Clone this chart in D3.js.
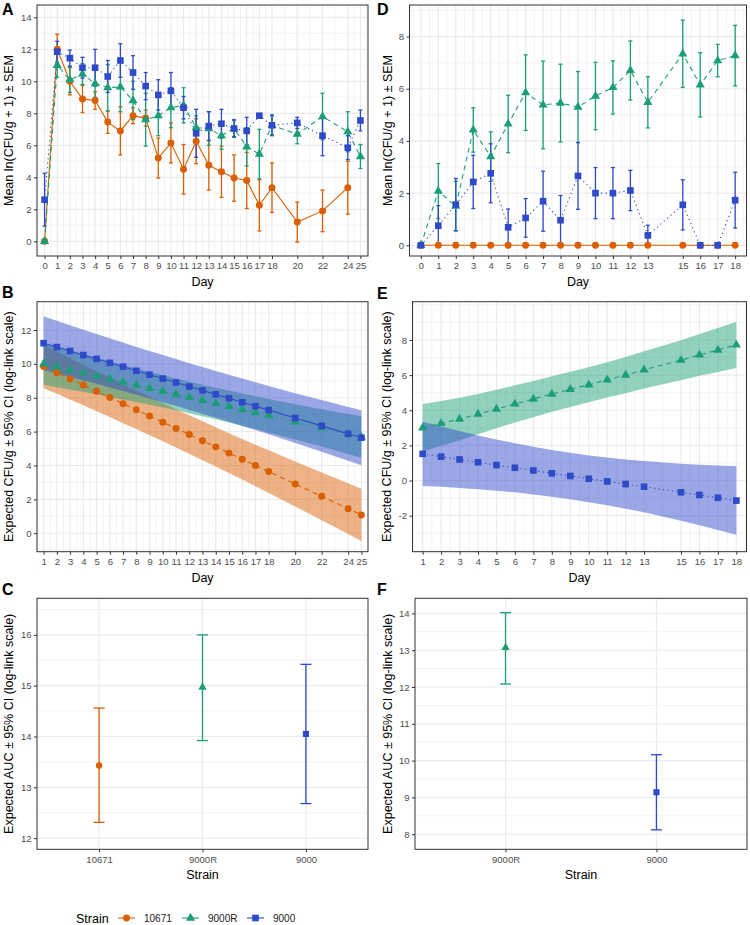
<!DOCTYPE html>
<html>
<head>
<meta charset="utf-8">
<script src="https://cdn.jsdelivr.net/npm/d3@7"></script>
<style>
  body { margin: 0; background: #fff; }
  svg { display: block; font-family: "Liberation Sans", Arial, sans-serif; }
</style>
</head>
<body>
<svg id="fig" width="750" height="925"></svg>
<script>
const strains = ["10671", "9000R", "9000"]
const colour = d3.scaleOrdinal().domain(strains).range(["#D95F02", "#1B9E77", "#2E4AC9"])
const shape = d3.scaleOrdinal().domain(strains).range([d3.symbolCircle, d3.symbolTriangle, d3.symbolSquare])
const symSize = { "10671": 38, "9000R": 36, "9000": 44 }

// ---- panel A: mean ln(CFU/g + 1) +- SEM, first experiment
const daysA = [0, 1, 2, 3, 4, 5, 6, 7, 8, 9, 10, 11, 12, 13, 14, 15, 16, 17, 18, 20, 22, 24, 25]
const meanA_10671 = [0, 12.0, 10.0, 8.9, 8.8, 7.45, 6.9, 7.85, 7.7, 5.2, 6.15, 4.5, 6.25, 4.75, 4.35, 3.95, 3.8, 2.25, 3.35, 1.2, 1.9, 3.35, null]
const semA_10671 = [0, 0.95, 0.85, 0.85, 0.55, 0.7, 1.5, 0.5, 0.5, 1.25, 1.25, 1.55, 1.4, 1.55, 1.6, 1.45, 1.75, 1.6, 1.55, 1.25, 1.3, 1.65, null]
const meanA_9000R = [0, 11.0, 10.1, 10.45, 9.85, 9.6, 9.65, 8.8, 7.6, 7.85, 8.35, 8.5, 7.1, 7.05, 6.6, 7.05, 5.9, 5.45, 7.25, 6.7, 7.8, 6.85, 5.3]
const semA_9000R = [0, 0.75, 0.8, 0.65, 0.85, 1.45, 1.55, 1.2, 1.65, 1.25, 1.25, 1.1, 0.75, 1.05, 0.85, 0.5, 1.2, 1.55, 0.6, 0.6, 1.45, 1.25, 0.75]
const meanA_9000 = [2.6, 11.85, 11.45, 10.85, 10.85, 10.3, 11.3, 10.55, 9.7, 9.15, 9.4, 8.35, 6.75, 7.2, 7.35, 7.05, 6.9, 7.85, 7.25, 7.4, 6.6, 5.85, 7.55]
const semA_9000 = [1.65, 0.65, 0.5, 0.65, 1.15, 1.0, 1.05, 1.05, 0.85, 0.95, 1.15, 0.7, 1.5, 0.9, 0.9, 0.55, 0.85, 0, 0.65, 0.35, 1.25, 0.75, 0.65]

// ---- panel D: mean ln(CFU/g + 1) +- SEM, second experiment
const daysD = [0, 1, 2, 3, 4, 5, 6, 7, 8, 9, 10, 11, 12, 13, 15, 16, 17, 18]
const meanD_10671 = [0, 0, 0, 0, 0, 0, 0, 0, 0, 0, 0, 0, 0, 0, 0, 0, 0, 0]
const semD_10671 = [0, 0, 0, 0, 0, 0, 0, 0, 0, 0, 0, 0, 0, 0, 0, 0, 0, 0]
const meanD_9000R = [0, 2.08, 1.5, 4.42, 3.4, 4.65, 5.85, 5.38, 5.45, 5.3, 5.72, 6.05, 6.7, 5.48, 7.34, 6.15, 7.08, 7.27]
const semD_9000R = [0, 1.05, 0.95, 0.85, 0.95, 1.1, 1.45, 1.68, 1.49, 1.36, 1.29, 1.02, 1.13, 0.98, 1.29, 1.23, 0.62, 1.16]
const meanD_9000 = [0, 0.75, 1.56, 2.43, 2.76, 0.69, 1.05, 1.69, 0.96, 2.66, 2.0, 2.0, 2.1, 0.38, 1.55, 0, 0, 1.73]
const semD_9000 = [0, 0.77, 1.0, 1.02, 1.13, 0.7, 0.74, 1.15, 0.95, 1.28, 0.98, 0.98, 0.77, 0.39, 0.96, 0, 0, 1.07]

// ---- panel B: model expected CFU/g with 95% CI (log-link scale)
const daysB = [1, 2, 3, 4, 5, 6, 7, 8, 9, 10, 11, 12, 13, 14, 15, 16, 17, 18, 20, 22, 24, 25]
const fitB_10671 = [9.84, 9.48, 9.11, 8.75, 8.38, 8.02, 7.65, 7.29, 6.92, 6.56, 6.19, 5.83, 5.46, 5.1, 4.73, 4.37, 4.0, 3.64, 2.91, 2.18, 1.45, 1.08]
const loB_10671 = [8.56, 8.23, 7.89, 7.55, 7.20, 6.86, 6.50, 6.15, 5.79, 5.43, 5.06, 4.69, 4.31, 3.94, 3.55, 3.17, 2.77, 2.38, 1.58, 0.77, -0.05, -0.47]
const hiB_10671 = [11.12, 10.73, 10.33, 9.95, 9.56, 9.18, 8.80, 8.43, 8.05, 7.69, 7.32, 6.97, 6.61, 6.26, 5.91, 5.57, 5.23, 4.90, 4.24, 3.59, 2.95, 2.63]
const fitB_9000R = [10.0, 9.82, 9.64, 9.46, 9.28, 9.1, 8.92, 8.74, 8.56, 8.38, 8.2, 8.02, 7.84, 7.66, 7.48, 7.3, 7.12, 6.94, 6.58, 6.22, 5.86, 5.68]
const loB_9000R = [8.76, 8.62, 8.48, 8.34, 8.20, 8.05, 7.90, 7.75, 7.59, 7.43, 7.26, 7.09, 6.91, 6.73, 6.54, 6.35, 6.15, 5.95, 5.54, 5.12, 4.68, 4.46]
const hiB_9000R = [11.24, 11.02, 10.80, 10.58, 10.36, 10.15, 9.94, 9.73, 9.53, 9.33, 9.14, 8.95, 8.77, 8.59, 8.42, 8.25, 8.09, 7.93, 7.62, 7.32, 7.04, 6.90]
const fitB_9000 = [11.22, 10.99, 10.76, 10.52, 10.29, 10.06, 9.83, 9.59, 9.36, 9.13, 8.9, 8.66, 8.43, 8.2, 7.97, 7.73, 7.5, 7.27, 6.8, 6.34, 5.87, 5.64]
const loB_9000 = [9.64, 9.44, 9.24, 9.02, 8.82, 8.61, 8.40, 8.18, 7.96, 7.74, 7.52, 7.28, 7.05, 6.82, 6.58, 6.33, 6.09, 5.84, 5.33, 4.81, 4.28, 4.02]
const hiB_9000 = [12.80, 12.54, 12.28, 12.02, 11.76, 11.51, 11.26, 11.00, 10.76, 10.52, 10.28, 10.04, 9.81, 9.58, 9.36, 9.13, 8.91, 8.70, 8.27, 7.87, 7.46, 7.26]

// ---- panel E: model expected CFU/g with 95% CI, second experiment
const daysE = [1, 2, 3, 4, 5, 6, 7, 8, 9, 10, 11, 12, 13, 15, 16, 17, 18]
const fitE_9000R = [3.0, 3.25, 3.5, 3.78, 4.07, 4.36, 4.64, 4.92, 5.19, 5.45, 5.73, 6.0, 6.3, 6.85, 7.15, 7.43, 7.72]
const loE_9000R = [1.65, 1.97, 2.29, 2.63, 2.97, 3.30, 3.61, 3.91, 4.19, 4.45, 4.72, 4.97, 5.24, 5.71, 5.96, 6.18, 6.40]
const hiE_9000R = [4.35, 4.53, 4.71, 4.93, 5.17, 5.42, 5.67, 5.93, 6.19, 6.45, 6.74, 7.03, 7.36, 7.99, 8.34, 8.68, 9.04]
const fitE_9000 = [1.52, 1.36, 1.2, 1.04, 0.88, 0.73, 0.57, 0.41, 0.26, 0.1, -0.05, -0.2, -0.35, -0.67, -0.82, -0.98, -1.14]
const loE_9000 = [-0.31, -0.36, -0.42, -0.49, -0.58, -0.67, -0.79, -0.92, -1.06, -1.23, -1.41, -1.60, -1.81, -2.29, -2.54, -2.82, -3.09]
const hiE_9000 = [3.35, 3.08, 2.82, 2.57, 2.34, 2.13, 1.93, 1.74, 1.58, 1.43, 1.31, 1.20, 1.11, 0.95, 0.90, 0.86, 0.81]

// ---- panels C and F: expected AUC with 95% CI
const strainsC = ["10671", "9000R", "9000"]
const aucC = [13.43, 14.97, 14.05]
const aucC_lo = [12.31, 13.92, 12.68]
const aucC_hi = [14.56, 16.0, 15.42]
const strainsF = ["9000R", "9000"]
const aucF = [13.07, 9.14]
const aucF_lo = [12.08, 8.12]
const aucF_hi = [14.02, 10.16]

const yTitleMean = "Mean ln(CFU/g + 1) \u00b1 SEM"
const yTitleFit = "Expected CFU/g \u00b1 95% CI (log-link scale)"
const yTitleAuc = "Expected AUC \u00b1 95% CI (log-link scale)"

const svg = d3.select("#fig")
const tickCol = "#4D4D4D"

const series = (days, means, errs) => days.map((d, i) => ({ day: d, v: means[i], e: errs ? errs[i] : 0 })).filter(p => p.v != null)

function minorY(dom, major) {
  const s = (major[1] - major[0]) / 2
  return d3.range(Math.ceil(dom[0] / s - 1e-9), Math.floor(dom[1] / s + 1e-9) + 1)
    .map(i => +(i * s).toFixed(6)).filter(v => !major.includes(v))
}
function minorX(dom, br) {
  const ext = [br[0] - 1, ...br, br[br.length - 1] + 1]
  const m = []
  for (let i = 0; i < ext.length - 1; i++) m.push((ext[i] + ext[i + 1]) / 2)
  return m.concat([ext[0], ext[ext.length - 1]]).filter(v => v >= dom[0] && v <= dom[1] && !br.includes(v))
}

function frame(b, x, y, xMajor, xMinor, yMajor, yMinor) {
  const g = svg.append("g")
  g.append("rect").attr("x", b.x0).attr("y", b.y0).attr("width", b.x1 - b.x0).attr("height", b.y1 - b.y0).attr("fill", "#fff")
  const hline = (vals, w) => g.append("g").selectAll("line").data(vals).join("line")
    .attr("x1", b.x0).attr("x2", b.x1).attr("y1", d => y(d)).attr("y2", d => y(d))
    .attr("stroke", "#EBEBEB").attr("stroke-width", w)
  const vline = (vals, w) => g.append("g").selectAll("line").data(vals).join("line")
    .attr("y1", b.y0).attr("y2", b.y1).attr("x1", d => x(d)).attr("x2", d => x(d))
    .attr("stroke", "#EBEBEB").attr("stroke-width", w)
  hline(yMinor, 0.6)
  vline(xMinor, 0.6)
  hline(yMajor, 1.2)
  vline(xMajor, 1.2)
  return g
}

function decorate(b, x, y, xTicks, yTicks, xTitle, yTitle, yTitleX, tag, tagX, tagY) {
  svg.append("rect").attr("x", b.x0).attr("y", b.y0).attr("width", b.x1 - b.x0).attr("height", b.y1 - b.y0)
    .attr("fill", "none").attr("stroke", "#333333").attr("stroke-width", 1)
  const ax = svg.append("g").attr("transform", `translate(0,${b.y1})`)
    .call(d3.axisBottom(x).tickValues(xTicks).tickFormat(d => String(d)).tickSize(3).tickPadding(3.5))
  const ay = svg.append("g").attr("transform", `translate(${b.x0},0)`)
    .call(d3.axisLeft(y).tickValues(yTicks).tickFormat(d => String(d)).tickSize(3).tickPadding(2.5))
  ;[ax, ay].forEach(a => {
    a.select(".domain").remove()
    a.selectAll(".tick line").attr("stroke", "#333333").attr("stroke-width", 1)
    a.selectAll(".tick text").attr("fill", tickCol).style("font-size", "9.5px")
      .style("font-family", "'Liberation Sans', Arial, sans-serif")
  })
  svg.append("text").attr("x", (b.x0 + b.x1) / 2).attr("y", b.y1 + 30).attr("text-anchor", "middle")
    .style("font-size", "12.5px").text(xTitle)
  svg.append("text").attr("transform", `translate(${yTitleX},${(b.y0 + b.y1) / 2}) rotate(-90)`)
    .attr("text-anchor", "middle").style("font-size", "12.5px").text(yTitle)
  svg.append("text").attr("x", tagX).attr("y", tagY).style("font-size", "16px").style("font-weight", "bold").text(tag)
}

function meanPanel(b, days, xDom, yDom, yTicks, groups, dashes, tag, tagX, yTitleX) {
  const x = d3.scaleLinear().domain(xDom).range([b.x0, b.x1])
  const y = d3.scaleLinear().domain(yDom).range([b.y1, b.y0])
  frame(b, x, y, days, minorX(xDom, days), yTicks, minorY(yDom, yTicks))
  const g = svg.append("g")
  const line = d3.line().x(d => x(d.day)).y(d => y(d.v))
  groups.forEach(s => {
    g.append("path").attr("d", line(s.pts)).attr("fill", "none").attr("stroke", colour(s.strain))
      .attr("stroke-width", 1.1).attr("stroke-dasharray", dashes[s.strain])
  })
  groups.forEach(s => {
    const eb = g.append("g").attr("stroke", colour(s.strain)).attr("stroke-width", 1.3)
    s.pts.filter(p => p.e > 0).forEach(p => {
      const cx = x(p.day), ylo = y(p.v - p.e), yhi = y(p.v + p.e)
      eb.append("line").attr("x1", cx).attr("x2", cx).attr("y1", ylo).attr("y2", yhi)
      eb.append("line").attr("x1", cx - 2).attr("x2", cx + 2).attr("y1", ylo).attr("y2", ylo)
      eb.append("line").attr("x1", cx - 2).attr("x2", cx + 2).attr("y1", yhi).attr("y2", yhi)
    })
  })
  groups.forEach(s => {
    g.append("g").selectAll("path").data(s.pts).join("path")
      .attr("transform", d => `translate(${x(d.day)},${y(d.v)})`)
      .attr("d", d3.symbol().type(shape(s.strain)).size(symSize[s.strain]))
      .attr("fill", colour(s.strain))
  })
  decorate(b, x, y, days, yTicks, "Day", yTitleMean, yTitleX, tag, tagX, b.y0 + 10)
}

function fitPanel(b, days, xDom, yDom, yTicks, groups, dashes, tag, tagX, tagY, yTitleX) {
  const x = d3.scaleLinear().domain(xDom).range([b.x0, b.x1])
  const y = d3.scaleLinear().domain(yDom).range([b.y1, b.y0])
  frame(b, x, y, days, minorX(xDom, days), yTicks, minorY(yDom, yTicks))
  const g = svg.append("g")
  const area = d3.area().x(d => x(d.day)).y0(d => y(d.lo)).y1(d => y(d.hi))
  const line = d3.line().x(d => x(d.day)).y(d => y(d.v))
  groups.forEach(s => {
    g.append("path").attr("d", area(s.pts)).attr("fill", colour(s.strain)).attr("fill-opacity", 0.48)
  })
  groups.forEach(s => {
    g.append("path").attr("d", line(s.pts)).attr("fill", "none").attr("stroke", colour(s.strain))
      .attr("stroke-width", 1.1).attr("stroke-dasharray", dashes[s.strain])
  })
  groups.forEach(s => {
    g.append("g").selectAll("path").data(s.pts).join("path")
      .attr("transform", d => `translate(${x(d.day)},${y(d.v)})`)
      .attr("d", d3.symbol().type(shape(s.strain)).size(symSize[s.strain]))
      .attr("fill", colour(s.strain))
  })
  decorate(b, x, y, days, yTicks, "Day", yTitleFit, yTitleX, tag, tagX, tagY)
}

function aucPanel(b, cats, est, lo, hi, yDom, yTicks, tag, tagX, tagY, yTitleX) {
  const x = d3.scalePoint().domain(cats).range([b.x0, b.x1]).padding(0.6)
  const y = d3.scaleLinear().domain(yDom).range([b.y1, b.y0])
  frame(b, x, y, cats, [], yTicks, minorY(yDom, yTicks))
  const g = svg.append("g")
  cats.forEach((c, i) => {
    const cx = x(c), col = colour(c)
    const eb = g.append("g").attr("stroke", col).attr("stroke-width", 1.3)
    eb.append("line").attr("x1", cx).attr("x2", cx).attr("y1", y(lo[i])).attr("y2", y(hi[i]))
    eb.append("line").attr("x1", cx - 5.5).attr("x2", cx + 5.5).attr("y1", y(lo[i])).attr("y2", y(lo[i]))
    eb.append("line").attr("x1", cx - 5.5).attr("x2", cx + 5.5).attr("y1", y(hi[i])).attr("y2", y(hi[i]))
    g.append("path").attr("transform", `translate(${cx},${y(est[i])})`)
      .attr("d", d3.symbol().type(shape(c)).size(symSize[c] * 0.85)).attr("fill", col)
  })
  decorate(b, x, y, cats, yTicks, "Strain", yTitleAuc, yTitleX, tag, tagX, tagY)
}

// panel A
meanPanel({ x0: 37, x1: 368, y0: 5, y1: 256 }, daysA, [-0.6, 25.6], [-0.92, 14.77], [0, 2, 4, 6, 8, 10, 12, 14],
  [
    { strain: "10671", pts: series(daysA, meanA_10671, semA_10671) },
    { strain: "9000R", pts: series(daysA, meanA_9000R, semA_9000R) },
    { strain: "9000", pts: series(daysA, meanA_9000, semA_9000) }
  ],
  { "10671": null, "9000R": "5,4", "9000": "1.2,3.3" }, "A", 2, 12.8)

// panel D
meanPanel({ x0: 409.5, x1: 746.5, y0: 5, y1: 256 }, daysD, [-0.65, 18.65], [-0.41, 9.21], [0, 2, 4, 6, 8],
  [
    { strain: "10671", pts: series(daysD, meanD_10671, semD_10671) },
    { strain: "9000R", pts: series(daysD, meanD_9000R, semD_9000R) },
    { strain: "9000", pts: series(daysD, meanD_9000, semD_9000) }
  ],
  { "10671": null, "9000R": "5,4", "9000": "1.2,3.3" }, "D", 377, 392)

const ribbon = (days, fit, lo, hi) => days.map((d, i) => ({ day: d, v: fit[i], lo: lo[i], hi: hi[i] }))

// panel B
fitPanel({ x0: 37, x1: 368, y0: 301.7, y1: 551.7 }, daysB, [0.5, 25.5], [-1.09, 13.67], [0, 2, 4, 6, 8, 10, 12],
  [
    { strain: "10671", pts: ribbon(daysB, fitB_10671, loB_10671, hiB_10671) },
    { strain: "9000R", pts: ribbon(daysB, fitB_9000R, loB_9000R, hiB_9000R) },
    { strain: "9000", pts: ribbon(daysB, fitB_9000, loB_9000, hiB_9000) }
  ],
  { "10671": "5,4", "9000R": "1.2,3.3", "9000": null }, "B", 2, 298, 13)

// panel E
fitPanel({ x0: 412.5, x1: 746.5, y0: 301.7, y1: 551.7 }, daysE, [0.45, 18.55], [-4.05, 10.18], [-2, 0, 2, 4, 6, 8],
  [
    { strain: "9000R", pts: ribbon(daysE, fitE_9000R, loE_9000R, hiE_9000R) },
    { strain: "9000", pts: ribbon(daysE, fitE_9000, loE_9000, hiE_9000) }
  ],
  { "9000R": "5,4", "9000": "1.2,3.3" }, "E", 377, 299, 390.5)

// panel C
aucPanel({ x0: 37, x1: 368, y0: 598.3, y1: 849.3 }, strainsC, aucC, aucC_lo, aucC_hi, [11.78, 16.72],
  [12, 13, 14, 15, 16], "C", 2, 595, 12.5)

// panel F
aucPanel({ x0: 415, x1: 747, y0: 598.3, y1: 849.3 }, strainsF, aucF, aucF_lo, aucF_hi, [7.59, 14.41],
  [8, 9, 10, 11, 12, 13, 14], "F", 377, 595, 392)

// legend
const leg = svg.append("g").attr("transform", "translate(0,918)")
leg.append("text").attr("x", 76).attr("y", 4.5).style("font-size", "12.5px").text("Strain")
const legX = [118, 182, 247]
strains.forEach((s, i) => {
  const k = leg.append("g").attr("transform", `translate(${legX[i]},0)`)
  k.append("line").attr("x1", 0).attr("x2", 17).attr("stroke", colour(s)).attr("stroke-width", 1.1)
  k.append("path").attr("transform", "translate(8.5,0)")
    .attr("d", d3.symbol().type(shape(s)).size(symSize[s])).attr("fill", colour(s))
  k.append("text").attr("x", 26).attr("y", 3.6).style("font-size", "10px").attr("fill", "#222").text(s)
})
</script>
</body>
</html>
